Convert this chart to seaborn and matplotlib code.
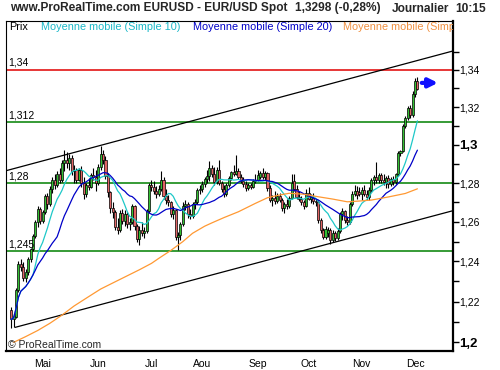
import numpy as np
import pandas as pd
import matplotlib
matplotlib.use("Agg")
import matplotlib.pyplot as plt
import matplotlib.transforms as mtransforms
from matplotlib.ticker import NullFormatter
import seaborn as sns

# ---------------- Data: EUR/USD daily candles, in pips above 1 (1.2345 -> 2345) ----------------
start_date = "2006-04-12"
end_date = "2006-12-04"

open_pips = [
    2160, 2112, 2125, 2257, 2388, 2372, 2318, 2345, 2410, 2462,
    2530, 2600, 2665, 2605, 2650, 2735, 2690, 2770, 2815, 2790,
    2845, 2815, 2905, 2920, 2905, 2930, 2860, 2870, 2815, 2870,
    2800, 2745, 2790, 2780, 2840, 2830, 2800, 2885, 2950, 2920,
    2835, 2755, 2670, 2650, 2575, 2560, 2645, 2605, 2640, 2590,
    2600, 2680, 2580, 2515, 2560, 2545, 2555, 2655, 2790, 2780,
    2760, 2745, 2770, 2815, 2735, 2710, 2700, 2640, 2660, 2525,
    2535, 2590, 2680, 2690, 2640, 2630, 2690, 2700, 2765, 2770,
    2795, 2820, 2835, 2880, 2845, 2805, 2870, 2800, 2770, 2745,
    2790, 2825, 2855, 2845, 2860, 2830, 2810, 2795, 2775, 2790,
    2780, 2810, 2815, 2830, 2850, 2830, 2850, 2775, 2710, 2725,
    2705, 2735, 2710, 2670, 2690, 2680, 2725, 2810, 2770, 2730,
    2715, 2700, 2680, 2750, 2720, 2730, 2705, 2700, 2610, 2560,
    2525, 2545, 2560, 2510, 2545, 2520, 2555, 2640, 2655, 2610,
    2600, 2690, 2745, 2760, 2755, 2745, 2765, 2745, 2730, 2765,
    2815, 2830, 2815, 2840, 2815, 2805, 2825, 2795, 2820, 2805,
    2845, 2955, 2968, 3100, 3140, 3195, 3155, 3270, 3340,
]
high_pips = [
    2175, 2140, 2265, 2400, 2412, 2395, 2360, 2420, 2470, 2540,
    2610, 2680, 2675, 2660, 2745, 2750, 2785, 2830, 2845, 2860,
    2880, 2920, 2975, 2960, 2950, 2945, 2895, 2880, 2880, 2890,
    2830, 2800, 2825, 2850, 2880, 2870, 2900, 2995, 2975, 2940,
    2850, 2760, 2700, 2660, 2620, 2660, 2665, 2660, 2650, 2620,
    2690, 2685, 2590, 2580, 2600, 2575, 2665, 2800, 2815, 2810,
    2785, 2790, 2865, 2830, 2770, 2740, 2705, 2680, 2665, 2550,
    2600, 2700, 2710, 2700, 2665, 2700, 2720, 2775, 2790, 2810,
    2830, 2870, 2915, 2895, 2885, 2885, 2920, 2810, 2790, 2800,
    2835, 2865, 2895, 2945, 2880, 2845, 2830, 2810, 2800, 2800,
    2820, 2845, 2870, 2860, 2880, 2865, 2855, 2790, 2740, 2760,
    2750, 2750, 2725, 2700, 2720, 2735, 2845, 2845, 2790, 2760,
    2735, 2710, 2770, 2780, 2745, 2750, 2720, 2710, 2620, 2570,
    2580, 2575, 2570, 2560, 2555, 2570, 2650, 2670, 2660, 2630,
    2700, 2760, 2790, 2785, 2780, 2780, 2790, 2765, 2780, 2825,
    2840, 2910, 2850, 2850, 2845, 2835, 2840, 2830, 2835, 2850,
    2965, 2975, 3110, 3150, 3205, 3210, 3285, 3355, 3362,
]
low_pips = [
    2068, 2075, 2118, 2245, 2350, 2300, 2295, 2330, 2395, 2450,
    2520, 2575, 2590, 2595, 2640, 2665, 2680, 2750, 2770, 2780,
    2800, 2805, 2860, 2880, 2870, 2840, 2800, 2800, 2810, 2780,
    2715, 2730, 2765, 2775, 2815, 2760, 2790, 2870, 2900, 2820,
    2730, 2645, 2620, 2560, 2540, 2550, 2590, 2580, 2570, 2560,
    2590, 2560, 2500, 2485, 2530, 2520, 2545, 2645, 2760, 2745,
    2725, 2735, 2760, 2720, 2690, 2680, 2625, 2615, 2510, 2455,
    2510, 2580, 2660, 2620, 2615, 2620, 2665, 2690, 2745, 2755,
    2780, 2800, 2810, 2830, 2790, 2795, 2790, 2755, 2730, 2735,
    2780, 2815, 2835, 2840, 2820, 2800, 2780, 2760, 2765, 2770,
    2775, 2800, 2810, 2820, 2820, 2815, 2760, 2700, 2680, 2690,
    2695, 2700, 2655, 2645, 2665, 2670, 2715, 2760, 2720, 2705,
    2685, 2665, 2675, 2710, 2695, 2690, 2680, 2595, 2545, 2515,
    2515, 2525, 2490, 2500, 2505, 2510, 2545, 2610, 2595, 2585,
    2590, 2680, 2735, 2720, 2735, 2710, 2735, 2710, 2710, 2755,
    2790, 2800, 2800, 2800, 2790, 2775, 2775, 2785, 2790, 2795,
    2835, 2940, 2960, 3090, 3130, 3140, 3145, 3255, 3290,
]
close_pips = [
    2112, 2128, 2257, 2388, 2372, 2318, 2345, 2410, 2462, 2530,
    2600, 2665, 2605, 2650, 2735, 2690, 2770, 2815, 2790, 2845,
    2815, 2905, 2920, 2905, 2930, 2860, 2870, 2815, 2870, 2800,
    2745, 2790, 2780, 2840, 2830, 2800, 2885, 2950, 2920, 2835,
    2755, 2670, 2650, 2575, 2560, 2645, 2605, 2640, 2590, 2600,
    2680, 2580, 2515, 2560, 2545, 2555, 2655, 2790, 2780, 2760,
    2745, 2770, 2815, 2735, 2710, 2700, 2640, 2660, 2525, 2535,
    2590, 2680, 2690, 2640, 2630, 2690, 2700, 2765, 2770, 2795,
    2820, 2835, 2880, 2845, 2805, 2870, 2800, 2770, 2745, 2790,
    2825, 2855, 2845, 2860, 2830, 2810, 2795, 2775, 2790, 2780,
    2810, 2815, 2840, 2850, 2830, 2850, 2775, 2710, 2725, 2705,
    2735, 2710, 2670, 2690, 2680, 2725, 2800, 2770, 2730, 2715,
    2700, 2680, 2750, 2720, 2730, 2705, 2700, 2610, 2560, 2525,
    2565, 2560, 2510, 2545, 2520, 2555, 2640, 2655, 2610, 2600,
    2690, 2745, 2760, 2740, 2745, 2765, 2745, 2730, 2765, 2815,
    2830, 2815, 2840, 2815, 2805, 2825, 2795, 2820, 2805, 2845,
    2955, 2968, 3100, 3140, 3195, 3155, 3270, 3340, 3298,
]

# orange average (Simple 100): trading-day index -> price
ma100_idx = [1, 6, 11, 16, 21, 26, 32, 37, 43, 48, 53, 58, 61, 66, 71, 75, 80,
             83, 88, 94, 101, 106, 111, 115, 121, 127, 133, 139, 144, 149, 156, 163, 168]
ma100_val = [1.2000, 1.2028, 1.2058, 1.2093, 1.2133, 1.2178, 1.2224, 1.2262, 1.2298,
             1.2328, 1.2358, 1.2390, 1.2415, 1.2455, 1.2500, 1.2542, 1.2578, 1.2595,
             1.2622, 1.2652, 1.2695, 1.2724, 1.2738, 1.2747, 1.2742, 1.2729, 1.2717,
             1.2703, 1.2707, 1.2712, 1.2728, 1.2746, 1.2770]

# horizontal support / resistance levels
levels = [1.34, 1.312, 1.28, 1.245]
level_labels = ["1,34", "1,312", "1,28", "1,245"]
level_colors = ["#e00000", "#008000", "#008000", "#008000"]

# trend channel end points (trading-day index, price)
upper_x, upper_y = [-2.15, 182.6], [1.2864, 1.3503]
lower_x, lower_y = [1.6, 182.6], [1.2073, 1.2657]

month_labels = ["Mai", "Jun", "Jul", "Aou", "Sep", "Oct", "Nov", "Dec"]
ytick_vals = [1.2, 1.22, 1.24, 1.26, 1.28, 1.3, 1.32, 1.34]
ytick_labels = ["1,2", "1,22", "1,24", "1,26", "1,28", "1,3", "1,32", "1,34"]
yminor_vals = [1.21, 1.23, 1.25, 1.27, 1.29, 1.31, 1.33, 1.35]
arrow_level = 1.333

# ---------------- Build frame ----------------
dates = pd.bdate_range(start_date, end_date)
df = pd.DataFrame({
    "date": dates,
    "open": 1 + np.array(open_pips) / 1e4,
    "high": 1 + np.array(high_pips) / 1e4,
    "low": 1 + np.array(low_pips) / 1e4,
    "close": 1 + np.array(close_pips) / 1e4,
})
df["idx"] = np.arange(len(df))
df["ma10"] = df["close"].rolling(10, min_periods=1).mean()
df["ma20"] = df["close"].rolling(20, min_periods=1).mean()

month_first = df.groupby(df["date"].dt.month)["idx"].first()
month_ticks = [month_first[m] for m in range(5, 13)]

# ---------------- Plot ----------------
sns.set_style("white")
plt.rcParams["font.family"] = ["Liberation Sans", "DejaVu Sans"]

W, H = 500, 370
fig = plt.figure(figsize=(5, 3.7), dpi=100)
ax = fig.add_axes([6 / W, 1 - 351 / H, (452.7 - 6) / W, (351 - 20.7) / H])
ax.set_yscale("log")

green, red = "#33c033", "#e06464"

# horizontal levels and labels
lbl_tr = mtransforms.blended_transform_factory(ax.transAxes, ax.transData)
for lv, lb, c in zip(levels, level_labels, level_colors):
    ax.axhline(lv, color=c, lw=1.1, zorder=2)
    ax.text(0.006, lv * 1.0008, lb, transform=lbl_tr, fontsize=7.5,
            ha="left", va="bottom", color="black", zorder=6)

# channel
ax.plot(upper_x, upper_y, color="black", lw=0.9, zorder=2)
ax.plot(lower_x, lower_y, color="black", lw=0.9, zorder=2)

# candles
up = df["close"] >= df["open"]
ax.vlines(df["idx"], df["low"], df["high"], color="black", lw=0.8, zorder=3)
ax.bar(df["idx"], df["close"] - df["open"], bottom=df["open"], width=0.85,
       color=np.where(up, green, red), edgecolor="black", linewidth=0.5, zorder=4)

# moving averages
sns.lineplot(x=df["idx"], y=df["ma10"], ax=ax, color="#1ec8c8", lw=0.9, zorder=5)
sns.lineplot(x=df["idx"], y=df["ma20"], ax=ax, color="#0000c8", lw=0.9, zorder=5)
sns.lineplot(x=ma100_idx, y=ma100_val, ax=ax, color="#ff9933", lw=0.9, zorder=5)

# last price arrow
last = df["idx"].iloc[-1]
ax.annotate("", xy=(last + 8.5, arrow_level), xytext=(last + 1.8, arrow_level),
            arrowprops=dict(arrowstyle="-|>", lw=3, color="#1010ff",
                            mutation_scale=13, shrinkA=0, shrinkB=0), zorder=6)

# axes
ax.set_xlim(-2.15, 182.6)
ax.set_ylim(1.1958, 1.3670)
ax.set_xlabel("")
ax.set_ylabel("")
ax.set_xticks(month_ticks)
ax.set_xticklabels(month_labels)
ax.yaxis.tick_right()
ax.set_yticks(ytick_vals)
ax.set_yticklabels(ytick_labels)
ax.set_yticks(yminor_vals, minor=True)
ax.yaxis.set_minor_formatter(NullFormatter())
ax.tick_params(axis="x", which="both", direction="out", length=4, width=1,
               labelsize=7.5, pad=2, colors="black")
ax.tick_params(axis="y", which="both", direction="out", length=4, width=1,
               labelsize=7.5, pad=0.5, colors="black", right=True, left=False)
for t in ax.get_yticklabels():
    if t.get_text() in ("1,2", "1,3"):
        t.set_fontweight("bold")
        t.set_fontsize(9.5)

for side, lw in [("left", 0.8), ("top", 0.8), ("right", 1.6), ("bottom", 1.6)]:
    ax.spines[side].set_color("black")
    ax.spines[side].set_linewidth(lw)

# legend line inside top of frame
def fx(x):
    return (x - 6) / (452.7 - 6)

ly = (351 - 26.5) / (351 - 20.7)
for x0, txt, c in [(9.3, "Prix", "black"),
                   (40.7, "Moyenne mobile (Simple 10)", "#1ab8c8"),
                   (192.7, "Moyenne mobile (Simple 20)", "#0000c8"),
                   (343.0, "Moyenne mobile (Simple 100)", "#f09040")]:
    ax.text(fx(x0), ly, txt, transform=ax.transAxes, fontsize=7.8, color=c,
            ha="left", va="center", clip_on=True, zorder=7)

# header
hy = 1 - 8.5 / H
fig.text(10 / W, hy, "www.ProRealTime.com EURUSD - EUR/USD Spot", fontsize=8.6,
         fontweight="bold", ha="left", va="center")
fig.text(295 / W, hy, "1,3298 (-0,28%)", fontsize=8.6, fontweight="bold", ha="left", va="center")
fig.text(392 / W, hy, "Journalier", fontsize=8.6, fontweight="bold", ha="left", va="center")
fig.text(455 / W, hy, "10:15", fontsize=8.6, fontweight="bold", ha="left", va="center")

# watermark
fig.text(8 / W, 1 - 345 / H, "\u00a9 ProRealTime.com", fontsize=7.5, ha="left", va="center")

fig.savefig("out.png", dpi=100, facecolor="white")
